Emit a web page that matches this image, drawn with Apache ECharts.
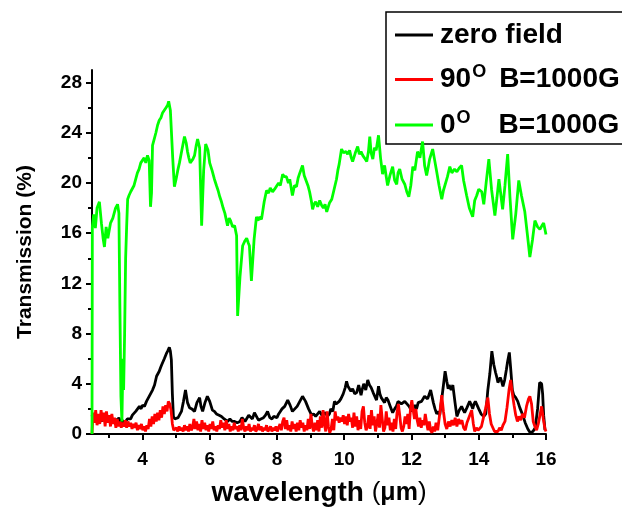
<!DOCTYPE html>
<html>
<head>
<meta charset="utf-8">
<script src="https://cdn.jsdelivr.net/npm/echarts@6/dist/echarts.min.js"></script>
<style>
  html, body { margin: 0; padding: 0; background: #fff; }
  #chart { width: 622px; height: 518px; }
</style>
</head>
<body>
<div id="chart"></div>
<script>
// Transmission spectra (%), wavelength in micrometres
const xTickValues = [4, 6, 8, 10, 12, 14, 16];
const xMinorValues = [3, 5, 7, 9, 11, 13, 15];
const yTickValues = [0, 4, 8, 12, 16, 20, 24, 28];
const yMinorValues = [2, 6, 10, 14, 18, 22, 26];

// zero field
const zeroFieldWl = [2.5, 2.55, 2.6, 2.65, 2.7, 2.75, 2.8, 2.85, 2.9, 2.95, 3.0, 3.05, 3.1, 3.15, 3.2, 3.25, 3.3, 3.35, 3.4, 3.45, 3.5, 3.55, 3.6, 3.65, 3.7, 3.75, 3.8, 3.85, 3.91, 3.96, 4.0, 4.06, 4.12, 4.16, 4.2, 4.25, 4.3, 4.36, 4.42, 4.46, 4.5, 4.54, 4.57, 4.61, 4.65, 4.68, 4.71, 4.75, 4.8, 4.83, 4.86, 4.89, 4.92, 4.96, 5.01, 5.06, 5.1, 5.16, 5.22, 5.28, 5.34, 5.4, 5.47, 5.55, 5.62, 5.7, 5.74, 5.79, 5.86, 5.93, 6.0, 6.08, 6.14, 6.2, 6.28, 6.35, 6.43, 6.53, 6.6, 6.67, 6.74, 6.82, 6.9, 6.96, 7.0, 7.05, 7.1, 7.16, 7.2, 7.27, 7.33, 7.39, 7.45, 7.52, 7.6, 7.66, 7.72, 7.79, 7.85, 7.9, 7.95, 8.0, 8.05, 8.1, 8.15, 8.23, 8.32, 8.39, 8.46, 8.53, 8.6, 8.68, 8.76, 8.85, 8.94, 9.03, 9.09, 9.15, 9.21, 9.27, 9.33, 9.38, 9.44, 9.5, 9.56, 9.6, 9.66, 9.71, 9.76, 9.8, 9.85, 9.9, 9.97, 10.03, 10.07, 10.11, 10.15, 10.2, 10.25, 10.31, 10.37, 10.43, 10.5, 10.54, 10.58, 10.64, 10.7, 10.75, 10.8, 10.86, 10.9, 10.96, 11.02, 11.06, 11.1, 11.15, 11.2, 11.25, 11.3, 11.37, 11.44, 11.5, 11.55, 11.6, 11.65, 11.7, 11.75, 11.8, 11.85, 11.93, 12.01, 12.06, 12.1, 12.15, 12.2, 12.3, 12.39, 12.48, 12.57, 12.61, 12.65, 12.7, 12.75, 12.8, 12.84, 12.9, 12.96, 13.0, 13.05, 13.09, 13.12, 13.18, 13.23, 13.29, 13.35, 13.42, 13.49, 13.54, 13.58, 13.65, 13.73, 13.78, 13.82, 13.86, 13.9, 13.95, 14.0, 14.07, 14.15, 14.21, 14.27, 14.33, 14.39, 14.45, 14.5, 14.54, 14.57, 14.6, 14.64, 14.68, 14.72, 14.77, 14.82, 14.86, 14.91, 14.95, 15.0, 15.04, 15.1, 15.16, 15.22, 15.31, 15.38, 15.46, 15.53, 15.61, 15.68, 15.75, 15.81, 15.87, 15.9, 15.93, 15.97, 16.0];
const zeroFieldT = [1.5, 1.1, 1.6, 1.0, 1.4, 1.2, 1.0, 1.5, 1.1, 1.3, 1.0, 1.4, 1.2, 0.9, 1.2, 1.0, 1.3, 0.9, 1.1, 0.8, 1.0, 1.2, 1.3, 1.2, 1.5, 1.4, 1.8, 1.7, 2.2, 2.0, 2.3, 2.2, 2.6, 2.5, 3.0, 3.1, 3.5, 3.9, 4.6, 4.7, 5.0, 5.3, 5.5, 5.6, 6.0, 6.1, 6.4, 6.6, 6.9, 6.6, 5.9, 3.2, 1.4, 1.2, 1.1, 1.3, 1.5, 1.8, 2.6, 3.5, 2.5, 2.1, 2.0, 1.8, 2.5, 2.9, 2.2, 1.8, 2.5, 3.0, 2.6, 1.9, 1.8, 1.6, 1.5, 1.4, 1.2, 1.0, 1.2, 1.0, 1.0, 0.9, 1.0, 1.3, 1.2, 1.0, 1.1, 1.5, 1.4, 1.2, 1.7, 1.4, 1.1, 1.2, 1.3, 1.5, 1.8, 1.3, 1.2, 1.4, 1.5, 1.3, 1.6, 1.8, 2.0, 2.2, 2.7, 2.3, 1.8, 2.0, 2.2, 2.6, 3.0, 2.6, 2.0, 1.5, 1.6, 1.4, 1.6, 1.8, 1.5, 1.6, 1.7, 1.4, 1.6, 2.0, 1.8, 2.6, 2.4, 2.5, 2.6, 2.8, 3.2, 3.7, 4.2, 3.8, 3.7, 3.4, 3.6, 3.2, 3.3, 3.9, 3.1, 3.6, 4.0, 3.5, 4.3, 3.9, 3.7, 3.3, 3.2, 2.7, 3.8, 3.2, 2.9, 3.0, 2.5, 2.9, 2.7, 2.2, 1.7, 2.0, 2.2, 2.6, 2.7, 2.4, 2.3, 2.6, 2.7, 2.2, 1.8, 2.1, 2.3, 2.0, 2.5, 2.6, 3.0, 2.8, 3.5, 3.0, 2.5, 2.0, 1.6, 1.8, 1.5, 2.8, 4.1, 5.0, 4.2, 3.6, 3.9, 3.5, 3.9, 2.6, 1.4, 1.9, 2.2, 1.9, 1.7, 2.1, 2.6, 2.3, 2.0, 2.4, 2.6, 2.3, 2.0, 1.6, 1.4, 1.6, 3.5, 4.8, 6.6, 5.5, 4.9, 4.5, 4.1, 4.2, 4.5, 4.2, 3.8, 4.3, 5.1, 5.8, 6.5, 5.2, 3.5, 3.1, 2.9, 2.6, 2.1, 1.5, 0.9, 0.4, 0.1, 0.2, 0.5, 2.0, 4.1, 4.0, 3.2, 1.5, 0.3];

// 90 degrees, B = 1000 G
const perpWl = [2.5, 2.53, 2.57, 2.61, 2.65, 2.69, 2.73, 2.77, 2.81, 2.85, 2.89, 2.93, 2.97, 3.01, 3.05, 3.09, 3.13, 3.17, 3.21, 3.25, 3.29, 3.33, 3.37, 3.41, 3.45, 3.49, 3.53, 3.57, 3.61, 3.65, 3.69, 3.73, 3.77, 3.81, 3.85, 3.89, 3.93, 3.97, 4.01, 4.05, 4.09, 4.13, 4.17, 4.21, 4.25, 4.29, 4.33, 4.37, 4.41, 4.45, 4.49, 4.53, 4.57, 4.61, 4.65, 4.69, 4.73, 4.77, 4.81, 4.85, 4.89, 4.93, 4.97, 5.01, 5.05, 5.09, 5.13, 5.17, 5.21, 5.25, 5.29, 5.33, 5.37, 5.41, 5.45, 5.49, 5.53, 5.57, 5.61, 5.65, 5.69, 5.73, 5.77, 5.81, 5.85, 5.89, 5.93, 5.97, 6.01, 6.05, 6.09, 6.13, 6.17, 6.21, 6.25, 6.29, 6.33, 6.37, 6.41, 6.45, 6.49, 6.53, 6.57, 6.61, 6.65, 6.69, 6.73, 6.77, 6.81, 6.85, 6.89, 6.93, 6.97, 7.01, 7.05, 7.09, 7.13, 7.17, 7.21, 7.25, 7.29, 7.33, 7.37, 7.41, 7.45, 7.49, 7.53, 7.57, 7.61, 7.65, 7.69, 7.73, 7.77, 7.81, 7.85, 7.89, 7.93, 7.97, 8.01, 8.05, 8.09, 8.13, 8.17, 8.21, 8.25, 8.29, 8.33, 8.37, 8.41, 8.45, 8.49, 8.53, 8.57, 8.61, 8.65, 8.69, 8.73, 8.77, 8.81, 8.85, 8.89, 8.93, 8.97, 9.01, 9.05, 9.09, 9.13, 9.17, 9.21, 9.25, 9.29, 9.33, 9.37, 9.41, 9.45, 9.49, 9.53, 9.57, 9.61, 9.65, 9.69, 9.73, 9.77, 9.81, 9.85, 9.89, 9.93, 9.97, 10.01, 10.05, 10.09, 10.13, 10.17, 10.21, 10.25, 10.29, 10.33, 10.37, 10.41, 10.45, 10.49, 10.53, 10.57, 10.61, 10.65, 10.69, 10.73, 10.77, 10.81, 10.85, 10.89, 10.93, 10.97, 11.01, 11.05, 11.09, 11.13, 11.17, 11.21, 11.25, 11.29, 11.33, 11.37, 11.41, 11.45, 11.49, 11.53, 11.57, 11.61, 11.65, 11.69, 11.73, 11.77, 11.81, 11.85, 11.89, 11.93, 11.97, 12.01, 12.05, 12.09, 12.13, 12.17, 12.21, 12.25, 12.29, 12.33, 12.37, 12.41, 12.45, 12.49, 12.53, 12.57, 12.61, 12.65, 12.69, 12.73, 12.78, 12.84, 12.9, 12.95, 13.0, 13.05, 13.1, 13.15, 13.2, 13.25, 13.3, 13.35, 13.4, 13.45, 13.5, 13.55, 13.6, 13.65, 13.72, 13.79, 13.84, 13.88, 13.93, 13.98, 14.03, 14.08, 14.14, 14.2, 14.27, 14.32, 14.37, 14.42, 14.47, 14.52, 14.57, 14.62, 14.67, 14.72, 14.78, 14.84, 14.9, 14.95, 15.0, 15.05, 15.1, 15.15, 15.2, 15.25, 15.3, 15.36, 15.42, 15.48, 15.52, 15.57, 15.62, 15.67, 15.72, 15.77, 15.82, 15.87, 15.92, 15.97, 16.0];
const perpT = [0.0, 1.7, 0.9, 1.9, 0.7, 1.6, 0.8, 1.9, 1.0, 1.7, 0.6, 1.8, 0.9, 1.5, 0.6, 1.6, 0.8, 1.3, 0.5, 1.2, 0.6, 1.0, 0.5, 0.9, 0.6, 1.1, 0.5, 1.0, 0.6, 0.9, 0.4, 0.8, 0.5, 0.9, 0.3, 0.7, 0.4, 0.8, 0.3, 0.6, 0.2, 0.7, 0.4, 1.2, 0.6, 1.4, 0.8, 1.6, 1.0, 1.7, 1.1, 1.9, 1.3, 2.2, 1.6, 2.3, 1.8, 2.6, 2.4, 1.9, 0.8, 0.3, 0.2, 0.5, 0.2, 0.6, 0.3, 0.5, 0.2, 0.7, 0.3, 0.6, 0.2, 0.8, 0.3, 0.5, 1.2, 0.4, 1.0, 0.3, 0.8, 0.2, 1.1, 0.4, 0.9, 0.3, 0.7, 0.2, 0.8, 0.4, 1.0, 0.3, 0.6, 0.2, 0.7, 0.4, 1.1, 0.5, 0.9, 0.3, 1.1, 0.4, 0.8, 0.2, 0.6, 0.3, 0.9, 0.4, 0.6, 0.2, 0.7, 0.3, 1.2, 0.5, 0.2, 0.6, 0.3, 0.8, 0.2, 0.5, 0.3, 0.7, 0.2, 0.4, 0.8, 0.3, 0.6, 0.2, 0.5, 0.3, 0.7, 0.2, 0.4, 0.6, 0.2, 0.5, 0.3, 0.6, 0.2, 0.5, 0.8, 0.3, 1.0, 1.3, 0.4, 1.1, 0.3, 0.7, 0.2, 1.0, 0.4, 0.8, 0.2, 0.9, 0.3, 1.1, 0.5, 0.9, 0.2, 0.7, 0.3, 1.2, 0.4, 1.6, 0.6, 0.2, 0.9, 0.3, 1.1, 0.2, 1.4, 0.5, 1.9, 0.8, 0.2, 1.8, 0.6, 0.1, 0.4, 1.2, 0.3, 1.8, 1.1, 1.4, 0.9, 1.3, 1.0, 1.5, 0.8, 1.4, 0.7, 1.6, 1.0, 1.3, 0.5, 1.7, 0.6, 1.4, 0.3, 1.1, 0.4, 1.8, 2.2, 0.9, 0.3, 0.6, 1.5, 0.4, 1.9, 0.7, 1.4, 0.2, 0.8, 1.6, 0.5, 2.3, 1.2, 0.2, 0.5, 1.8, 0.7, 1.3, 0.3, 0.9, 0.2, 1.2, 0.4, 1.7, 2.4, 1.5, 0.5, 0.2, 0.6, 1.4, 0.8, 1.6, 0.4, 2.0, 2.7, 1.9, 1.2, 2.0, 1.1, 0.6, 1.3, 0.5, 1.1, 0.7, 1.6, 0.9, 0.3, 1.0, 0.3, 0.1, 0.6, 0.2, 0.9, 0.3, 1.6, 3.1, 1.8, 0.8, 0.4, 1.0, 0.6, 1.1, 0.7, 1.3, 0.6, 1.2, 0.8, 1.1, 0.5, 0.3, 0.9, 1.4, 1.9, 0.8, 0.2, 0.5, 0.3, 0.2, 0.6, 1.3, 2.0, 2.9, 1.6, 0.8, 0.5, 0.2, 0.3, 0.2, 0.5, 0.3, 0.7, 1.0, 2.1, 3.5, 4.3, 3.2, 2.3, 1.5, 1.0, 1.4, 1.1, 1.6, 1.3, 2.2, 2.8, 3.0, 2.4, 1.0, 0.6, 0.3, 0.8, 1.5, 2.2, 1.2, 0.4, 0.2];

// 0 degrees, B = 1000 G
const paraWl = [2.5, 2.51, 2.55, 2.6, 2.65, 2.72, 2.78, 2.83, 2.87, 2.92, 2.97, 3.01, 3.05, 3.12, 3.2, 3.26, 3.3, 3.33, 3.36, 3.39, 3.42, 3.44, 3.47, 3.5, 3.53, 3.56, 3.6, 3.65, 3.7, 3.75, 3.8, 3.85, 3.9, 3.95, 4.0, 4.05, 4.1, 4.15, 4.2, 4.24, 4.27, 4.3, 4.35, 4.4, 4.45, 4.5, 4.55, 4.6, 4.65, 4.7, 4.75, 4.78, 4.83, 4.9, 4.95, 5.0, 5.05, 5.1, 5.15, 5.2, 5.25, 5.3, 5.34, 5.38, 5.42, 5.46, 5.5, 5.55, 5.6, 5.64, 5.7, 5.76, 5.82, 5.88, 5.95, 6.0, 6.07, 6.14, 6.2, 6.25, 6.3, 6.35, 6.4, 6.45, 6.53, 6.58, 6.62, 6.68, 6.74, 6.8, 6.83, 6.9, 6.98, 7.05, 7.1, 7.15, 7.18, 7.24, 7.32, 7.39, 7.44, 7.48, 7.54, 7.62, 7.69, 7.75, 7.8, 7.87, 7.93, 8.0, 8.05, 8.1, 8.17, 8.22, 8.28, 8.34, 8.38, 8.46, 8.52, 8.58, 8.63, 8.68, 8.76, 8.81, 8.85, 8.92, 8.97, 9.02, 9.06, 9.1, 9.15, 9.21, 9.27, 9.33, 9.38, 9.43, 9.48, 9.56, 9.63, 9.7, 9.77, 9.81, 9.85, 9.92, 9.98, 10.05, 10.1, 10.16, 10.21, 10.25, 10.33, 10.4, 10.45, 10.5, 10.55, 10.6, 10.67, 10.72, 10.76, 10.8, 10.85, 10.9, 10.95, 11.02, 11.08, 11.14, 11.2, 11.25, 11.29, 11.36, 11.44, 11.5, 11.56, 11.6, 11.65, 11.72, 11.8, 11.86, 11.92, 11.98, 12.04, 12.1, 12.18, 12.25, 12.33, 12.39, 12.45, 12.5, 12.54, 12.63, 12.69, 12.75, 12.82, 12.9, 12.95, 13.0, 13.07, 13.14, 13.2, 13.28, 13.35, 13.42, 13.49, 13.55, 13.64, 13.72, 13.82, 13.88, 13.94, 14.0, 14.09, 14.15, 14.22, 14.3, 14.38, 14.48, 14.54, 14.6, 14.66, 14.71, 14.78, 14.86, 14.93, 15.01, 15.1, 15.19, 15.27, 15.37, 15.45, 15.52, 15.6, 15.67, 15.75, 15.82, 15.88, 15.93, 16.0];
const paraT = [0.0, 16.5, 17.5, 16.4, 18.0, 18.5, 16.8, 15.6, 14.9, 16.5, 15.6, 16.2, 16.8, 17.2, 18.0, 18.3, 17.6, 10.0, 3.0, 1.0, 6.0, 3.5, 8.0, 14.0, 16.5, 18.7, 19.0, 19.3, 19.4, 19.8, 20.3, 20.8, 21.1, 21.6, 21.7, 22.0, 21.6, 22.2, 21.8, 18.1, 19.2, 23.0, 23.5, 24.0, 24.6, 25.0, 25.2, 25.6, 25.7, 26.0, 26.2, 26.5, 25.8, 22.0, 19.7, 20.3, 21.0, 21.6, 22.3, 23.0, 23.7, 23.2, 22.5, 22.0, 21.6, 21.7, 21.9, 22.2, 23.0, 23.5, 22.8, 16.6, 21.0, 23.1, 22.6, 21.6, 21.0, 20.3, 19.8, 19.4, 18.9, 18.5, 18.0, 17.6, 16.6, 17.2, 17.0, 16.5, 16.6, 15.8, 9.4, 12.5, 15.0, 15.4, 15.6, 15.2, 15.0, 12.2, 15.5, 17.3, 17.0, 17.3, 17.1, 18.5, 19.4, 19.2, 19.6, 19.3, 19.5, 19.8, 20.0, 19.8, 20.7, 20.5, 20.5, 20.0, 20.3, 19.0, 19.8, 19.7, 20.4, 20.8, 21.4, 20.6, 20.5, 19.8, 19.3, 18.6, 17.9, 18.3, 18.5, 18.1, 18.6, 18.2, 18.0, 18.3, 17.7, 18.4, 18.7, 19.5, 20.3, 21.0, 21.5, 22.7, 22.4, 22.5, 22.3, 22.6, 22.0, 21.7, 22.4, 22.9, 22.3, 22.5, 22.2, 22.0, 21.7, 22.5, 23.7, 22.4, 21.9, 22.8, 22.6, 23.8, 22.0, 20.7, 21.4, 20.5, 19.8, 20.6, 21.3, 20.2, 19.9, 20.8, 21.1, 20.3, 19.9, 19.3, 18.9, 19.8, 21.3, 21.0, 22.5, 22.0, 23.3, 21.4, 20.6, 21.3, 21.9, 22.7, 21.8, 20.9, 19.8, 18.7, 19.4, 19.5, 20.5, 21.3, 20.8, 21.1, 20.9, 21.2, 21.4, 20.2, 19.0, 18.0, 17.3, 18.6, 19.0, 19.5, 19.3, 18.3, 20.0, 21.9, 19.5, 17.4, 18.8, 20.3, 19.0, 17.9, 19.8, 22.3, 18.8, 15.5, 17.5, 20.2, 19.0, 17.7, 15.8, 14.1, 15.5, 17.0, 16.5, 16.3, 16.6, 16.8, 15.9];

const zip = (xs, ys) => xs.map((x, i) => [x, ys[i]]);

const FONT = 'Liberation Sans, Arial, sans-serif';
const tickFont = { color: '#000', fontFamily: FONT, fontWeight: 'bold', fontSize: 19 };
const legendRich = {
  n: { fontFamily: FONT, fontWeight: 'bold', fontSize: 28, color: '#000', lineHeight: 32 },
  s: { fontFamily: FONT, fontWeight: 'bold', fontSize: 18, color: '#000', lineHeight: 32, verticalAlign: 'top', padding: [0, 0, 13, 1] },
  g1: { fontSize: 28, width: 13, lineHeight: 32 },
  g2: { fontSize: 28, width: 28, lineHeight: 32 }
};

const chart = echarts.init(document.getElementById('chart'), null, { renderer: 'canvas' });

chart.setOption({
  animation: false,
  backgroundColor: '#fff',
  grid: { left: 92, right: 76, top: 70, bottom: 84, containLabel: false },
  legend: {
    data: ['zero field', '90 B=1000G', '0 B=1000G'],
    orient: 'vertical',
    left: 386,
    top: 12,
    icon: 'rect',
    itemWidth: 38,
    itemHeight: 3,
    itemGap: 14.5,
    selectedMode: false,
    padding: [9, 30, 4, 9],
    borderColor: '#000',
    borderWidth: 1.5,
    backgroundColor: '#fff',
    formatter: function (name) {
      if (name === 'zero field') return '{n|zero field}';
      if (name === '90 B=1000G') return '{n|90}{s|O}{g1| }{n|B=1000G}';
      return '{n|0}{s|O}{g2| }{n|B=1000G}';
    },
    textStyle: { rich: legendRich, padding: [0, 0, 0, 2] }
  },
  xAxis: [
    {
      type: 'value',
      min: 2.5,
      max: 16,
      name: '{b|wavelength }{p|(}{m|μm}{p|)}',
      nameLocation: 'middle',
      nameGap: 45,
      nameTextStyle: {
        rich: {
          b: { fontFamily: FONT, fontWeight: 'bold', fontSize: 28, color: '#000' },
          p: { fontFamily: FONT, fontWeight: 'normal', fontSize: 26, color: '#000' },
          m: { fontFamily: FONT, fontWeight: 'bold', fontSize: 25, color: '#000' }
        }
      },
      axisLine: { show: true, onZero: false, lineStyle: { color: '#000', width: 2 } },
      axisTick: { show: true, inside: false, length: 6, lineStyle: { color: '#000', width: 2 }, customValues: xTickValues },
      axisLabel: { ...tickFont, margin: 16, customValues: xTickValues },
      splitLine: { show: false }
    },
    {
      type: 'value',
      min: 2.5,
      max: 16,
      position: 'bottom',
      axisLine: { show: false },
      axisTick: { show: true, length: 4, lineStyle: { color: '#000', width: 2 }, customValues: xMinorValues },
      axisLabel: { show: false },
      splitLine: { show: false }
    }
  ],
  yAxis: [
    {
      type: 'value',
      min: 0,
      max: 29,
      name: 'Transmission (%)',
      nameLocation: 'middle',
      nameGap: 56,
      nameTextStyle: { fontFamily: FONT, fontWeight: 'bold', fontSize: 21, color: '#000' },
      axisLine: { show: true, onZero: false, lineStyle: { color: '#000', width: 2 } },
      axisTick: { show: true, inside: false, length: 6, lineStyle: { color: '#000', width: 2 }, customValues: yTickValues },
      axisLabel: { ...tickFont, margin: 10, customValues: yTickValues },
      splitLine: { show: false }
    },
    {
      type: 'value',
      min: 0,
      max: 29,
      position: 'left',
      axisLine: { show: false },
      axisTick: { show: true, length: 4, lineStyle: { color: '#000', width: 2 }, customValues: yMinorValues },
      axisLabel: { show: false },
      splitLine: { show: false }
    }
  ],
  series: [
    {
      name: 'zero field',
      type: 'line',
      data: zip(zeroFieldWl, zeroFieldT),
      showSymbol: false,
      symbol: 'none',
      lineStyle: { color: '#000', width: 2.8 },
      itemStyle: { color: '#000' },
      z: 2
    },
    {
      name: '90 B=1000G',
      type: 'line',
      data: zip(perpWl, perpT),
      showSymbol: false,
      symbol: 'none',
      lineStyle: { color: '#ff0000', width: 2.8 },
      itemStyle: { color: '#ff0000' },
      z: 3
    },
    {
      name: '0 B=1000G',
      type: 'line',
      data: zip(paraWl, paraT),
      showSymbol: false,
      symbol: 'none',
      lineStyle: { color: '#00ff00', width: 2.8 },
      itemStyle: { color: '#00ff00' },
      z: 4
    }
  ]
});
</script>
</body>
</html>
